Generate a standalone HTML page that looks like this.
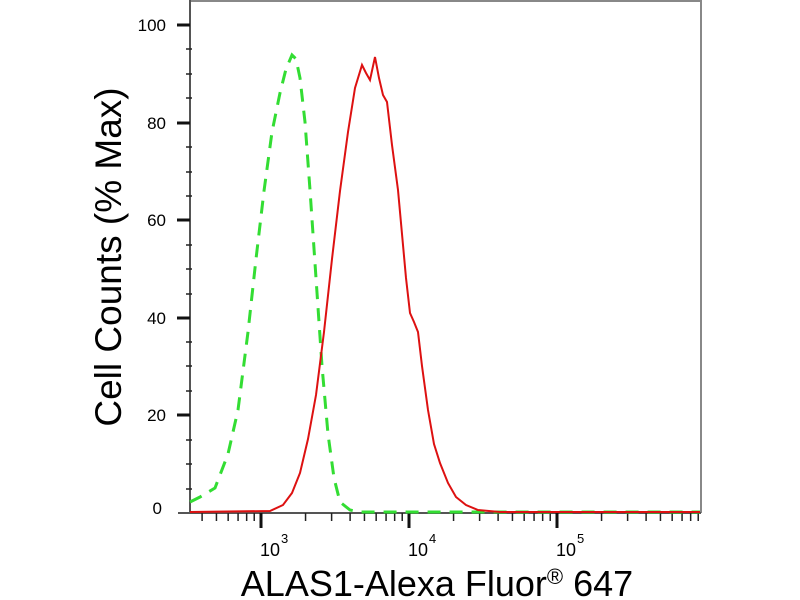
<!DOCTYPE html>
<html><head><meta charset="utf-8"><style>
html,body{margin:0;padding:0;background:#fff;width:800px;height:600px;overflow:hidden}
</style></head><body>
<svg width="800" height="600" viewBox="0 0 800 600" xmlns="http://www.w3.org/2000/svg" font-family="Liberation Sans, sans-serif">
<rect width="800" height="600" fill="#fff"/>
<line x1="190" y1="1" x2="701" y2="1" stroke="#888" stroke-width="2"/>
<line x1="701" y1="0" x2="701" y2="513" stroke="#888" stroke-width="2"/>
<line x1="190" y1="0" x2="190" y2="513" stroke="#555" stroke-width="2"/>
<line x1="178" y1="513" x2="701" y2="513" stroke="#555" stroke-width="2"/>
<g stroke="#111" stroke-width="3">
<line x1="177" y1="25" x2="190" y2="25"/><line x1="177" y1="123" x2="190" y2="123"/>
<line x1="177" y1="220" x2="190" y2="220"/><line x1="177" y1="318" x2="190" y2="318"/>
<line x1="177" y1="415" x2="190" y2="415"/>
</g>
<g stroke="#222" stroke-width="1.5">
<line x1="186" y1="49" x2="192" y2="49"/><line x1="186" y1="74" x2="192" y2="74"/><line x1="186" y1="98" x2="192" y2="98"/>
<line x1="186" y1="147" x2="192" y2="147"/><line x1="186" y1="172" x2="192" y2="172"/><line x1="186" y1="196" x2="192" y2="196"/>
<line x1="186" y1="245" x2="192" y2="245"/><line x1="186" y1="269" x2="192" y2="269"/><line x1="186" y1="294" x2="192" y2="294"/>
<line x1="186" y1="342" x2="192" y2="342"/><line x1="186" y1="366" x2="192" y2="366"/><line x1="186" y1="391" x2="192" y2="391"/>
<line x1="186" y1="440" x2="192" y2="440"/><line x1="186" y1="464" x2="192" y2="464"/><line x1="186" y1="489" x2="192" y2="489"/>
</g>
<g font-size="17" fill="#000" text-anchor="end">
<text x="166" y="31">100</text><text x="166" y="129">80</text><text x="166" y="226">60</text>
<text x="166" y="324">40</text><text x="166" y="421">20</text><text x="162" y="514">0</text>
</g>
<g stroke="#111" stroke-width="3">
<line x1="261" y1="513" x2="261" y2="528"/><line x1="409" y1="513" x2="409" y2="528"/><line x1="557" y1="513" x2="557" y2="528"/>
</g>
<g stroke="#222" stroke-width="1.5" id="minors"></g>
<g font-size="18" fill="#000">
<text x="260" y="556">10</text><text x="281" y="543" font-size="13">3</text>
<text x="408" y="556">10</text><text x="429" y="543" font-size="13">4</text>
<text x="556" y="556">10</text><text x="577" y="543" font-size="13">5</text>
</g>
<polyline fill="none" stroke="#33dd33" stroke-width="3" stroke-dasharray="13 9" points="190,502 200,497 215,488 228,454 238,410 248,332 256,259 264,191 272,132 280,93 286,69 292,55 296,59 300,78 305,122 310,190 316,278 322,366 328,434 334,478 340,502 350,510 360,512 700,512"/>
<polyline fill="none" stroke="#dd1111" stroke-width="2" points="190,512 270,511 283,505 292,493 300,473 308,439 316,395 324,332 332,259 340,191 348,132 355,88 362,65 366,73 370,80 375,57 379,78 383,95 387,102 392,145 398,190 402,234 406,278 410,313 414,322 418,332 422,366 428,410 434,444 440,463 448,483 456,497 466,505 478,510 500,512 700,512"/>
<text x="437" y="596" font-size="36" text-anchor="middle" fill="#000">ALAS1-Alexa Fluor<tspan font-size="22" dy="-12">®</tspan><tspan dy="12"> 647</tspan></text>
<text transform="translate(121,257) rotate(-90)" font-size="37" text-anchor="middle" fill="#000">Cell Counts (% Max)</text>
</svg>
<script>
var g=document.getElementById('minors'),ns='http://www.w3.org/2000/svg';
for(var d=2;d<6;d++){for(var k=2;k<10;k++){var x=261+(d-3)*148+Math.log10(k)*148;if(x<190||x>701)continue;
var l=document.createElementNS(ns,'line');l.setAttribute('x1',x);l.setAttribute('x2',x);l.setAttribute('y1',513);l.setAttribute('y2',521);g.appendChild(l);}}
</script>
</body></html>
